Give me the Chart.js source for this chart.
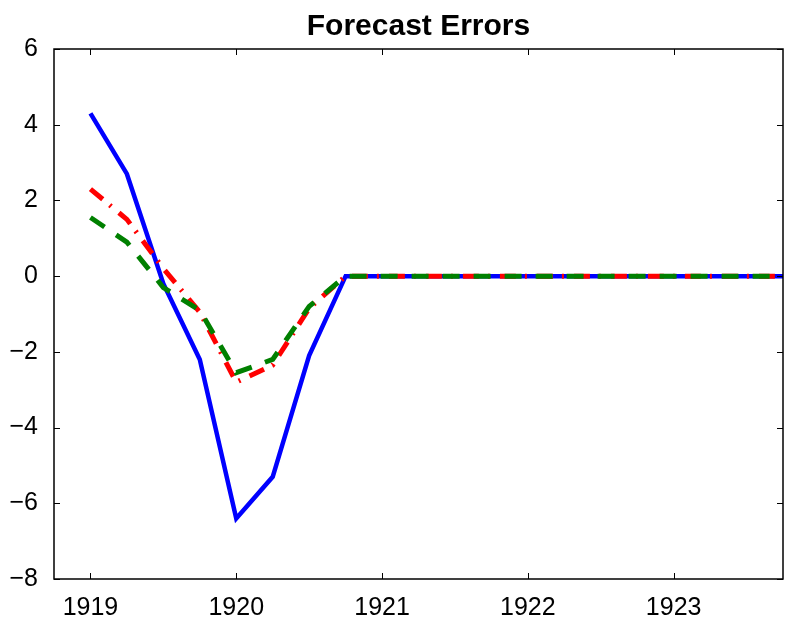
<!DOCTYPE html>
<html>
<head>
<meta charset="utf-8">
<script src="https://cdn.jsdelivr.net/npm/chart.js@4/dist/chart.umd.min.js"></script>
<style>
  body { margin: 0; background: #fff; }
  canvas { display: block; }
</style>
</head>
<body>
<canvas id="chart" width="795" height="618"></canvas>
<script>
// quarterly dates, 1919Q1 .. 1923Q4
var quarters = [1919, 1919.25, 1919.5, 1919.75, 1920, 1920.25, 1920.5, 1920.75,
                1921, 1921.25, 1921.5, 1921.75, 1922, 1922.25, 1922.5, 1922.75,
                1923, 1923.25, 1923.5, 1923.75];
var blueErr  = [4.3, 2.7, -0.2, -2.2, -6.4, -5.3, -2.1, 0, 0, 0, 0, 0, 0, 0, 0, 0, 0, 0, 0, 0];
var redErr   = [2.3, 1.5, 0.2, -0.95, -2.8, -2.35, -0.85, 0, 0, 0, 0, 0, 0, 0, 0, 0, 0, 0, 0, 0];
var greenErr = [1.55, 0.9, -0.3, -0.9, -2.55, -2.2, -0.8, 0, 0, 0, 0, 0, 0, 0, 0, 0, 0, 0, 0, 0];
var xTicks = [1919, 1920, 1921, 1922, 1923];
var yTicks = [-8, -6, -4, -2, 0, 2, 4, 6];

function pts(vals) {
  var out = [];
  for (var i = 0; i < vals.length; i++) out.push({ x: quarters[i], y: vals[i] });
  return out;
}

// matlab style box with inward ticks
var boxPlugin = {
  id: 'box',
  afterDraw: function(chart) {
    var ctx = chart.ctx, a = chart.chartArea;
    var xs = chart.scales.x, ys = chart.scales.y;
    ctx.save();
    ctx.strokeStyle = '#000';
    ctx.lineWidth = 1.5;
    ctx.strokeRect(a.left, a.top, a.right - a.left, a.bottom - a.top);
    ctx.lineWidth = 1;
    ctx.beginPath();
    xTicks.forEach(function(v) {
      var px = Math.round(xs.getPixelForValue(v)) + 0.5;
      ctx.moveTo(px, a.bottom); ctx.lineTo(px, a.bottom - 6);
      ctx.moveTo(px, a.top); ctx.lineTo(px, a.top + 6);
    });
    yTicks.forEach(function(v) {
      var py = Math.round(ys.getPixelForValue(v)) + 0.5;
      ctx.moveTo(a.left, py); ctx.lineTo(a.left + 6, py);
      ctx.moveTo(a.right, py); ctx.lineTo(a.right - 6, py);
    });
    ctx.stroke();
    ctx.restore();
  }
};

var font = 'Liberation Sans, Arial, Helvetica, sans-serif';

new Chart(document.getElementById('chart'), {
  type: 'line',
  data: {
    datasets: [
      { data: pts(blueErr), borderColor: '#0000ff', borderWidth: 4.5, order: 3 },
      { data: pts(redErr), borderColor: '#ff0000', borderWidth: 5, borderDash: [16, 9, 2, 10], order: 2 },
      { data: pts(greenErr), borderColor: '#008000', borderWidth: 5, borderDash: [17, 14], order: 1 }
    ]
  },
  options: {
    responsive: false,
    animation: false,
    layout: { padding: { left: 0, right: 12, top: 0, bottom: 0 } },
    elements: { point: { radius: 0 }, line: { tension: 0, borderCapStyle: 'butt', borderJoinStyle: 'miter' } },
    plugins: {
      legend: { display: false },
      tooltip: { enabled: false },
      title: {
        display: true,
        text: 'Forecast Errors',
        fullSize: false,
        color: '#000',
        font: { family: font, size: 30, weight: 'bold', lineHeight: 1.2 },
        padding: { top: 9, bottom: 4 }
      }
    },
    scales: {
      x: {
        type: 'linear',
        min: 1918.75,
        max: 1923.75,
        grid: { display: false },
        border: { display: false },
        afterBuildTicks: function(s) { s.ticks = xTicks.map(function(v) { return { value: v }; }); },
        afterFit: function(s) { s.height = 39; },
        ticks: {
          color: '#000',
          padding: 6,
          maxRotation: 0,
          font: { family: font, size: 25 },
          callback: function(v) { return String(v); }
        }
      },
      y: {
        min: -8,
        max: 6,
        grid: { display: false },
        border: { display: false },
        afterBuildTicks: function(s) { s.ticks = yTicks.map(function(v) { return { value: v }; }); },
        afterFit: function(s) { s.width = 54; },
        ticks: {
          color: '#000',
          padding: 8,
          font: { family: font, size: 25 },
          callback: function(v) { return String(v).replace('-', '\u2212'); }
        }
      }
    }
  },
  plugins: [boxPlugin]
});
</script>
</body>
</html>
